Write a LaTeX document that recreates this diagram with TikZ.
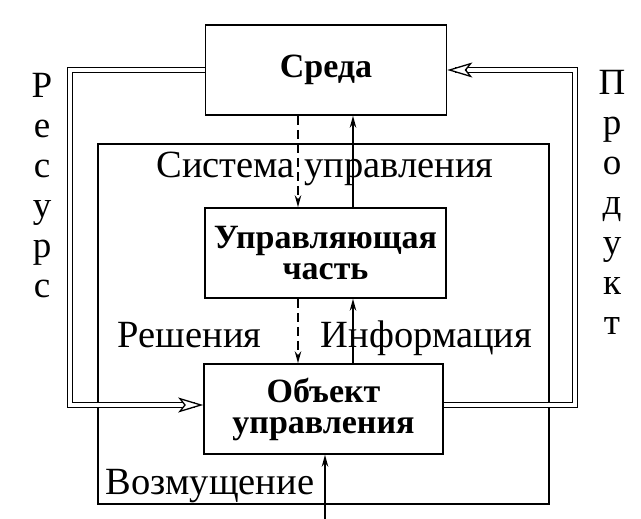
\documentclass[tikz,border=0pt]{standalone}
\usepackage{fontspec}
\setmainfont{Liberation Serif}
\usepackage{tikz}
\usetikzlibrary{positioning,calc,arrows.meta}
\tikzset{
  blk/.style    = {draw, line width=1.6pt, minimum width=241pt,
                   minimum height=90pt, inner sep=2pt, align=center,
                   font=\bfseries\fontsize{34}{31}\selectfont},
  frame/.style  = {draw, line width=1.4pt, minimum width=451pt,
                   minimum height=360pt, inner sep=0pt},
  dwire/.style  = {double, line width=1.3pt, double distance=3.4pt},
  hollow/.style = {line width=1.3pt,
                   -{Stealth[fill=white, length=25pt, width=15pt, inset=6pt]}},
  iwire/.style  = {line width=1.3pt, dash pattern=on 9pt off 5pt,
                   -{Stealth[length=12pt, width=6.5pt]}},
  owire/.style  = {line width=1.3pt, -{Stealth[length=12pt, width=6.5pt]}},
  lbl/.style    = {font=\fontsize{38.5}{40}\selectfont, inner sep=0pt, anchor=base},
  vlbl/.style   = {font=\fontsize{37}{40}\selectfont, inner sep=0pt,
                   anchor=north, align=center},
}

\begin{document}
\begin{tikzpicture}[x=1pt, y=-1pt]
  \useasboundingbox (0,0) rectangle (641,519);
  % blocks
  \node[frame] (sys) at (323.5,324) {};
  \node[blk] (env) at (326,70) {Среда};
  \node[blk] (ctrl) at (325.5,253) {Управляющая\\часть};
  \node[blk, minimum width=239pt] (obj) at (323.5,409) {Объект\\управления};
  % resource and product
  \coordinate (r1) at (70,70);
  \coordinate (r2) at (70,405);
  \coordinate (p1) at (575,405);
  \coordinate (p2) at (575,70);
  \draw[dwire] (env.west) -- (r1) -- (r2) -- ($(obj.west)+(-8,-4)$);
  \draw[hollow] ($(obj.west)+(-19,-4)$) -- ($(obj.west)+(0,-4)$);
  \draw[dwire] ($(obj.east)+(0,-4)$) -- (p1) -- (p2) -- ($(env.east)+(8,0)$);
  \draw[hollow] ($(env.east)+(19,0)$) -- (env.east);
  % signals
  \draw[iwire] ($(env.south)+(-28,0)$) -- ($(ctrl.north)+(-27.5,0)$);
  \draw[owire] ($(ctrl.north)+(27.5,0)$) -- ($(env.south)+(27,0)$);
  \draw[iwire] ($(ctrl.south)+(-27.5,0)$) -- ($(obj.north)+(-25.5,0)$);
  \draw[owire] ($(obj.north)+(29.5,0)$) -- ($(ctrl.south)+(27.5,0)$);
  \coordinate (dist) at (325,519);
  \draw[owire] (dist) -- (dist |- obj.south);
  % labels
  \node[lbl] (lsys) at (325,178) {Система управления};
  \node[lbl] (ldec) at (189.5,347) {Решения};
  \node[lbl] (linf) at (426.5,347) {Информация};
  \node[lbl] (ldis) at (210,494) {Возмущение};
  \node[vlbl] (lres) at (42,73) {Р\\е\\с\\у\\р\\с};
  \node[vlbl] (lprod) at (612,70) {П\\р\\о\\д\\у\\к\\т};
\end{tikzpicture}
\end{document}
